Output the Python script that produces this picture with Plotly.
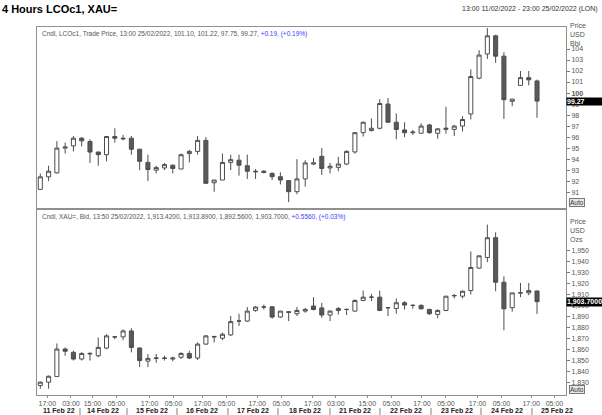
import plotly.graph_objects as go
from plotly.subplots import make_subplots

# Brent (LCOc1) 4h candles
brent_open  = [91.25,92.39,92.75,95.0,95.2,95.9,95.6,94.64,94.4,96.05,95.9,95.9,94.9,93.7,93.0,93.2,93.45,93.1,94.5,94.7,95.7,91.85,92.1,93.7,93.9,93.4,92.9,92.9,92.7,92.4,92.05,91.04,92.2,93.55,94.25,93.2,93.25,93.55,94.65,96.4,96.6,96.8,99.0,97.35,96.65,96.4,96.35,97.1,96.35,96.7,96.7,97.0,98.1,101.35,103.55,105.2,103.35,99.25,100.7,101.4,101.10]
brent_high  = [92.69,93.4,95.63,95.5,96.1,96.0,95.8,94.7,96.1,96.8,96.2,96.1,94.9,94.4,93.4,93.65,93.5,94.5,94.85,96.1,96.0,92.1,94.5,94.4,94.4,94.4,93.1,93.0,92.8,92.8,92.05,94.0,93.9,94.1,95.0,93.65,94.2,94.8,96.45,97.4,97.7,99.45,99.55,98.15,97.35,96.65,97.25,97.2,96.8,98.75,97.1,97.9,102.15,103.9,105.9,105.3,103.7,99.45,102.0,102.0,101.22]
brent_low   = [91.2,92.0,92.69,94.5,94.7,95.15,93.65,93.4,93.8,95.5,95.7,94.4,93.0,92.0,92.7,93.0,92.7,93.1,93.7,94.4,91.8,91.04,92.1,93.0,92.5,92.2,92.2,92.7,92.1,91.7,90.1,90.8,91.5,93.45,92.55,92.7,92.9,93.45,94.5,96.05,96.5,96.7,97.35,95.8,96.0,96.2,96.35,96.3,95.85,96.3,96.1,96.5,97.6,101.25,103.1,102.75,97.65,98.8,100.7,100.7,97.75]
brent_close = [92.39,92.9,95.0,95.1,95.9,95.66,94.64,94.4,96.05,95.9,95.85,94.9,93.8,93.05,93.23,93.5,93.15,94.4,94.7,95.7,91.8,92.1,93.7,93.95,93.45,92.9,92.85,92.8,92.4,92.1,91.04,92.2,93.65,93.65,93.15,93.35,93.55,94.7,96.4,97.35,96.8,99.05,97.35,96.7,96.4,96.45,97.0,96.4,96.75,96.8,97.0,97.6,101.5,103.45,105.2,103.35,99.4,99.45,101.4,101.2,99.27]

# Gold (XAU=) 4h candles
gold_open  = [1827.3,1830.3,1835.4,1860.5,1857.5,1851.4,1856.0,1854.4,1861.4,1871.5,1871.6,1877.0,1861.4,1849.5,1852.0,1852.3,1851.4,1853.0,1856.5,1852.3,1865.0,1872.0,1870.4,1873.4,1886.0,1886.0,1895.7,1898.8,1899.0,1889.7,1894.5,1892.7,1895.1,1899.7,1898.0,1891.5,1895.7,1896.6,1895.1,1904.8,1907.8,1907.8,1898.2,1897.5,1902.7,1900.3,1900.3,1896.6,1892.1,1895.7,1909.0,1908.7,1913.8,1934.3,1944.0,1962.0,1921.4,1898.2,1911.7,1911.7,1913.42]
gold_high  = [1830.9,1836.3,1865.6,1862.0,1859.0,1857.5,1857.5,1871.0,1874.0,1872.5,1878.5,1879.5,1862.0,1856.0,1856.0,1854.4,1853.5,1857.5,1859.0,1866.5,1873.0,1872.5,1875.5,1890.6,1892.7,1898.8,1899.7,1901.0,1899.7,1895.1,1894.8,1898.8,1898.1,1907.8,1902.7,1895.7,1898.8,1897.5,1905.7,1913.8,1910.8,1913.8,1898.8,1906.6,1904.2,1901.2,1901.2,1897.2,1896.6,1908.7,1910.8,1913.8,1949.4,1945.5,1974.0,1966.9,1926.8,1911.7,1920.8,1920.8,1913.89]
gold_low   = [1824.3,1824.3,1835.4,1854.4,1850.0,1850.0,1850.0,1853.0,1860.5,1869.5,1868.5,1857.5,1844.0,1844.0,1848.0,1850.0,1849.3,1851.4,1851.4,1850.5,1864.4,1866.5,1868.6,1872.5,1881.6,1885.2,1894.5,1896.6,1888.2,1889.0,1886.0,1890.6,1893.6,1895.7,1889.0,1886.0,1892.0,1891.5,1894.5,1904.2,1904.2,1895.1,1890.6,1892.7,1896.6,1897.2,1896.6,1891.5,1888.5,1895.1,1906.6,1906.6,1910.2,1933.7,1939.8,1913.2,1877.6,1894.5,1907.8,1909.6,1892.56]
gold_close = [1830.3,1835.7,1860.5,1858.5,1851.4,1856.5,1856.5,1862.0,1872.5,1871.6,1877.0,1862.0,1850.0,1852.0,1852.3,1852.0,1852.3,1856.5,1852.3,1865.0,1872.5,1871.6,1874.0,1885.5,1886.1,1895.1,1898.8,1898.8,1889.7,1895.1,1894.0,1895.7,1896.6,1896.6,1891.5,1895.1,1897.5,1896.6,1904.8,1907.8,1907.8,1895.7,1898.2,1902.7,1900.6,1900.3,1897.2,1892.7,1895.7,1908.7,1909.3,1913.2,1934.9,1945.5,1962.0,1921.4,1897.2,1911.7,1911.7,1913.8,1903.70]

time_labels = ["17:00","03:00","15:00","05:00","17:00","05:00","17:00","05:00","17:00","05:00",
               "17:00","03:00","15:00","05:00","17:00","05:00","17:00","05:00","17:00","05:00"]
time_pos = [0.85,3.7,6.3,9.2,13.2,16.1,19.6,22.5,26.2,29.1,32.9,35.7,39.5,42.4,46.1,49.0,52.8,55.7,59.3,62.1]
date_labels = ["11 Feb 22","14 Feb 22","15 Feb 22","16 Feb 22","17 Feb 22","18 Feb 22",
               "21 Feb 22","22 Feb 22","23 Feb 22","24 Feb 22","25 Feb 22"]
date_pos = [2.3,7.6,13.5,19.5,25.7,32.0,38.0,44.2,50.3,56.4,62.4]
sep_pos = [4.8,10.5,16.5,22.7,28.7,35.0,41.0,47.2,53.2,59.4]

brent_ticks = list(range(91, 105))
gold_ticks = list(range(1830, 1951, 10))

x = list(range(len(brent_open)))
LINE = "#4d4d4d"
DARK = "#595959"

fig = make_subplots(rows=2, cols=1, shared_xaxes=True, vertical_spacing=0.003)
def candle(o, h, l, c):
    return go.Candlestick(x=x, open=o, high=h, low=l, close=c, whiskerwidth=0,
        increasing=dict(line=dict(color=LINE, width=1), fillcolor="white"),
        decreasing=dict(line=dict(color=LINE, width=1), fillcolor=DARK),
        showlegend=False, hoverinfo="skip")
fig.add_trace(candle(brent_open, brent_high, brent_low, brent_close), row=1, col=1)
fig.add_trace(candle(gold_open, gold_high, gold_low, gold_close), row=2, col=1)

F = "Arial, Liberation Sans"
axcommon = dict(showgrid=False, zeroline=False, showline=True, linecolor="#909090", mirror=True,
                linewidth=1, automargin=False)
fig.update_xaxes(range=[-0.4, 63.5], rangeslider_visible=False, **axcommon)
fig.update_xaxes(row=1, col=1, showticklabels=False, ticks="")
fig.update_xaxes(row=2, col=1, tickmode="array", tickvals=time_pos, ticktext=time_labels,
                 ticks="outside", ticklen=2, tickcolor="#909090",
                 tickfont=dict(family=F, size=7, color="#555"))
fig.update_yaxes(row=1, col=1, side="right", range=[89.52, 106.0], tickmode="array",
                 tickvals=brent_ticks,
                 ticktext=["<b>100</b>" if v == 100 else str(v) for v in brent_ticks],
                 ticks="outside", ticklen=3, tickcolor="#777",
                 tickfont=dict(family=F, size=7, color="#555"), **axcommon)
fig.update_yaxes(row=2, col=1, side="right", range=[1818.6, 1987.7], tickmode="array",
                 tickvals=gold_ticks, ticktext=[f"{v:,}" for v in gold_ticks],
                 ticks="outside", ticklen=3, tickcolor="#777",
                 tickfont=dict(family=F, size=7, color="#555"), **axcommon)

ann = []
ann.append(dict(x=0, y=1.0, xref="paper", yref="paper", yshift=18, xshift=-37, xanchor="left",
                yanchor="middle", text="<b>4 Hours LCOc1, XAU=</b>", showarrow=False,
                font=dict(family=F, size=11, color="black")))
ann.append(dict(x=1, y=1.0, xref="paper", yref="paper", yshift=18, xshift=34, xanchor="right",
                yanchor="middle", text="13:00 11/02/2022 - 23:00 25/02/2022 (LON)", showarrow=False,
                font=dict(family=F, size=7, color="#333")))
ann.append(dict(x=0, y=1.0, xref="paper", yref="paper", xshift=3, yshift=-1, xanchor="left",
                yanchor="top", showarrow=False, font=dict(family=F, size=6.5, color="#555"),
                text="Cndl, LCOc1, Trade Price, 13:00 25/02/2022, 101.10, 101.22, 97.75, 99.27, "
                     "<span style='color:#3b3bff'>+0.19, (+0.19%)</span>"))
ann.append(dict(x=0, y=0.504, xref="paper", yref="paper", xshift=3, yshift=-1, xanchor="left",
                yanchor="top", showarrow=False, font=dict(family=F, size=6.5, color="#555"),
                text="Cndl, XAU=, Bid, 13:50 25/02/2022, 1,913.4200, 1,913.8900, 1,892.5600, 1,903.7000, "
                     "<span style='color:#3b3bff'>+0.5560, (+0.03%)</span>"))
for yy, ys, lab in [(1.0, 7, "Price<br>USD<br>Bbl"), (0.504, -6, "Price<br>USD<br>Ozs")]:
    ann.append(dict(x=1, y=yy, xref="paper", yref="paper", xshift=2, yshift=ys, xanchor="left",
                    yanchor="top", showarrow=False, align="left", text=lab,
                    font=dict(family=F, size=7, color="#555")))
for yy in [0.507, 0.0]:
    ann.append(dict(x=1, y=yy, xref="paper", yref="paper", xshift=3, yshift=1, xanchor="left",
                    yanchor="bottom", showarrow=False, text="Auto", bordercolor="#777",
                    borderwidth=1, borderpad=0, bgcolor="#e8e8e8",
                    font=dict(family=F, size=6.5, color="#333")))
ann.append(dict(x=1, y=brent_close[-1], xref="paper", yref="y", xanchor="left", showarrow=False,
                text="<b>99.27</b>", bgcolor="black", font=dict(family=F, size=7, color="white"),
                width=36, align="left", borderpad=0))
ann.append(dict(x=1, y=gold_close[-1], xref="paper", yref="y2", xanchor="left", showarrow=False,
                text="<b>1,903.7000</b>", bgcolor="black", font=dict(family=F, size=7, color="white"),
                width=36, align="left", borderpad=0))
for p, t in zip(date_pos, date_labels):
    ann.append(dict(x=p, y=0, xref="x2", yref="paper", yshift=-10, yanchor="top", showarrow=False,
                    text=f"<b>{t}</b>", font=dict(family=F, size=7, color="#222")))
for p in sep_pos:
    ann.append(dict(x=p, y=0, xref="x2", yref="paper", yshift=-10, yanchor="top", showarrow=False,
                    text="|", font=dict(family=F, size=7, color="#222")))

fig.update_layout(width=602, height=415, margin=dict(l=37, r=36, t=27, b=20),
                  paper_bgcolor="white", plot_bgcolor="white", annotations=ann)
fig.update_yaxes(row=1, col=1, domain=[0.507, 1.0])
fig.update_yaxes(row=2, col=1, domain=[0.0, 0.504])
fig.write_html("out.html", config={"displayModeBar": False},
               post_script="document.body.style.margin='0';document.body.style.overflow='hidden';")
